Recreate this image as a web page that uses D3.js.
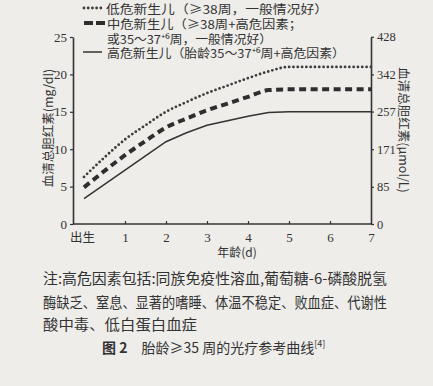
<!DOCTYPE html>
<html><head><meta charset="utf-8">
<script src="https://cdn.jsdelivr.net/npm/d3@7/dist/d3.min.js"></script>
<style>
body{margin:0;background:#eeedea;}
svg{display:block;}
text{fill:#333;}
.cjk{font-family:"Noto Sans CJK SC","Noto Sans",sans-serif;}
.num{font-family:"Liberation Serif","DejaVu Serif",serif;}
</style></head>
<body>
<svg id="c" width="433" height="386"></svg>
<script>
// ---- data ----
const days = [0, 0.5, 1, 1.5, 2, 2.5, 3, 3.5, 4, 4.5, 5, 5.5, 6, 6.5, 7];
const lowRisk  = [6.3, 8.9, 11.3, 13.2, 15.0, 16.3, 17.5, 18.5, 19.5, 20.4, 21, 21, 21, 21, 21];
const medRisk  = [4.9, 7.1, 9.2, 11.1, 12.9, 14.1, 15.2, 16.1, 17.0, 17.9, 18, 18, 18, 18, 18];
const highRisk = [3.4, 5.3, 7.2, 9.1, 11.0, 12.2, 13.2, 13.8, 14.4, 14.9, 15, 15, 15, 15, 15];
const xTicks = [0, 1, 2, 3, 4, 5, 6, 7];
const xTickLabels = ["出生", "1", "2", "3", "4", "5", "6", "7"];
const yTicks = [0, 5, 10, 15, 20, 25];
const yRightTicks = [0, 85, 171, 257, 342, 428];
const legendLabels = [
  "低危新生儿（≥38周，一般情况好）",
  "中危新生儿（≥38周+高危因素；",
  "或35～37⁺⁶周，一般情况好）",
  "高危新生儿（胎龄35～37⁺⁶周+高危因素）"
];
const noteLines = [
  "注:高危因素包括:同族免疫性溶血,葡萄糖-6-磷酸脱氢",
  "酶缺乏、窒息、显著的嗜睡、体温不稳定、败血症、代谢性",
  "酸中毒、低白蛋白血症"
];
const captionBold = "图 2";
const captionText = "胎龄≥35 周的光疗参考曲线";
const xTitle = "年龄(d)";
const yTitleLeft = "血清总胆红素(mg/dl)";
const yTitleRight = "血清总胆红素(μmol/L)";

// ---- layout ----
const svg = d3.select("#c");
const ink = "#333";
const axL = 73, axR = 371, axT = 37, axB = 224;
const x = d3.scaleLinear().domain([0, 7]).range([84, axR]);
const y = d3.scaleLinear().domain([0, 25]).range([axB, axT]);
const yR = d3.scaleLinear().domain([0, 25 * 17.1]).range([axB, axT]);

// left axis
const gL = svg.append("g").attr("transform", `translate(${axL},0)`)
  .call(d3.axisLeft(y).tickValues(yTicks).tickSizeInner(3).tickSizeOuter(0).tickPadding(3));
gL.select(".domain").attr("stroke", ink).attr("stroke-width", 1.6);
gL.selectAll(".tick line").attr("stroke", ink).attr("stroke-width", 1.2);
gL.selectAll(".tick text").attr("class", "num").attr("font-size", 13).attr("fill", ink);

// right axis
const gR = svg.append("g").attr("transform", `translate(${axR},0)`)
  .call(d3.axisRight(yR).tickValues(yRightTicks).tickSizeInner(3).tickSizeOuter(0).tickPadding(3));
gR.select(".domain").attr("stroke", ink).attr("stroke-width", 1.6);
gR.selectAll(".tick line").attr("stroke", ink).attr("stroke-width", 1.2);
gR.selectAll(".tick text").attr("class", "num").attr("font-size", 12.5).attr("fill", ink);

// bottom axis
const gB = svg.append("g").attr("transform", `translate(0,${axB})`)
  .call(d3.axisBottom(x).tickValues(xTicks).tickSizeInner(-3).tickSizeOuter(0).tickPadding(9)
    .tickFormat((d, i) => xTickLabels[i]));
gB.select(".domain").attr("d", `M${axL},0H${axR}`).attr("stroke", ink).attr("stroke-width", 1.6);
gB.selectAll(".tick line").attr("stroke", ink).attr("stroke-width", 1.2)
  .attr("opacity", d => (d === 0 || d === 7) ? 0 : 1);
gB.selectAll(".tick text").attr("fill", ink)
  .attr("class", d => d === 0 ? "cjk" : "num")
  .attr("font-size", d => d === 0 ? 12.5 : 13)
  .attr("dx", d => d === 0 ? -2 : 0);

// axis titles
svg.append("text").attr("class", "cjk").attr("x", 237).attr("y", 257)
  .attr("text-anchor", "middle").attr("font-size", 12).text(xTitle);
svg.append("text").attr("class", "cjk")
  .attr("transform", "translate(47,128) rotate(-90)").attr("dominant-baseline", "central")
  .attr("text-anchor", "middle").attr("font-size", 12.5).text(yTitleLeft);
svg.append("text").attr("class", "cjk")
  .attr("transform", "translate(404,130) rotate(90)").attr("dominant-baseline", "central")
  .attr("text-anchor", "middle").attr("font-size", 12.5).text(yTitleRight);

// lines
const line = d3.line().x((d, i) => x(days[i])).y(d => y(d)).curve(d3.curveMonotoneX);
const lineLin = d3.line().x((d, i) => x(days[i])).y(d => y(d));
svg.append("path").attr("d", line(lowRisk)).attr("fill", "none")
  .attr("stroke", "#3c3c3c").attr("stroke-width", 2.8)
  .attr("stroke-linecap", "round").attr("stroke-dasharray", "0 4.3");
svg.append("path").attr("d", line(medRisk)).attr("fill", "none")
  .attr("stroke", "#2e2e2e").attr("stroke-width", 4)
  .attr("stroke-dasharray", "7 4.5");
svg.append("path").attr("d", lineLin(highRisk)).attr("fill", "none")
  .attr("stroke", "#333").attr("stroke-width", 1.5);

// legend
const lg = svg.append("g");
const lgY = [8, 23, 38, 52];
lg.append("line").attr("x1", 84).attr("x2", 101).attr("y1", lgY[0]).attr("y2", lgY[0])
  .attr("stroke", "#3c3c3c").attr("stroke-width", 2.8).attr("stroke-linecap", "round").attr("stroke-dasharray", "0 4.2");
lg.append("line").attr("x1", 84).attr("x2", 105).attr("y1", lgY[1]).attr("y2", lgY[1])
  .attr("stroke", "#2e2e2e").attr("stroke-width", 4).attr("stroke-dasharray", "9 3");
lg.append("line").attr("x1", 83).attr("x2", 102).attr("y1", lgY[3]).attr("y2", lgY[3])
  .attr("stroke", "#333").attr("stroke-width", 1.5);
const lgX = [106, 107, 107, 107];
const lgW = [222, 195, 165, 238];
legendLabels.forEach((t, i) => {
  lg.append("text").attr("class", "cjk").attr("x", lgX[i]).attr("y", lgY[i])
    .attr("dominant-baseline", "central")
    .attr("font-size", 12).attr("textLength", lgW[i]).attr("lengthAdjust", "spacingAndGlyphs").text(t);
});

// note text
const nW = [344, 344, 154];
const nY = [284, 308, 330];
noteLines.forEach((t, i) => {
  svg.append("text").attr("class", "cjk").attr("x", 43).attr("y", nY[i])
    .attr("font-size", 14.5).attr("textLength", nW[i]).attr("lengthAdjust", "spacingAndGlyphs").text(t);
});
const cap = svg.append("text").attr("class", "cjk").attr("x", 102).attr("y", 353).attr("font-size", 14);
cap.append("tspan").attr("font-weight", "bold").text(captionBold);
cap.append("tspan").attr("dx", 14).text(captionText);
cap.append("tspan").attr("font-size", 9).attr("dy", -6).text("[4]");
</script>
</body></html>
